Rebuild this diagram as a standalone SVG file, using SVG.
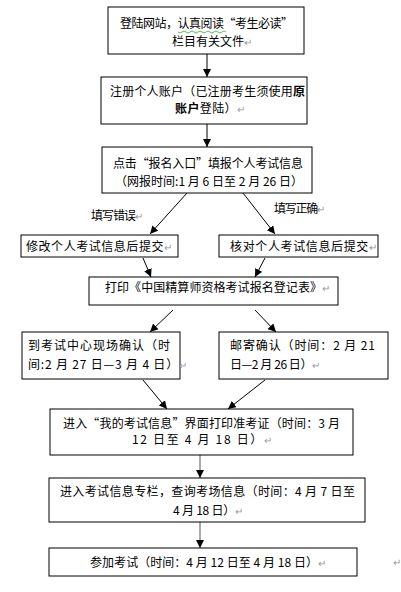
<svg xmlns="http://www.w3.org/2000/svg" width="401" height="592" viewBox="0 0 401 592">
<defs>
<style>
.box{fill:#fff;stroke:#000;stroke-width:1}
.t{font-family:"Noto Sans CJK SC","Noto Sans",sans-serif;font-size:12px;fill:#000}
.pm{fill:#999;font-size:10px}
.b{font-weight:bold}
.c{stroke:#000;stroke-width:1;fill:none;marker-end:url(#ah)}
.g{stroke:#555}
</style>
<marker id="ah" viewBox="0 0 8 8" refX="8" refY="4" markerWidth="8" markerHeight="8" markerUnits="userSpaceOnUse" orient="auto">
<path d="M0,0 L8,4 L0,8 z" fill="#000"/>
</marker>
</defs>
<rect width="401" height="592" fill="#fff"/>
<g id="connectors">
<line class="c" x1="207" y1="54" x2="207" y2="77"/>
<line class="c" x1="207" y1="124" x2="207" y2="147"/>
<line class="c" x1="187" y1="193" x2="150" y2="234"/>
<line class="c" x1="243" y1="193" x2="275" y2="234"/>
<line class="c" x1="143" y1="258" x2="151" y2="277"/>
<line class="c" x1="265" y1="258" x2="255" y2="277"/>
<line class="c" x1="173" y1="310" x2="150" y2="332"/>
<line class="c" x1="255" y1="310" x2="276" y2="332"/>
<line class="c" x1="143" y1="380" x2="167" y2="409"/>
<line class="c" x1="265" y1="380" x2="228" y2="409"/>
<line class="c g" x1="200" y1="455" x2="200" y2="478"/>
<line class="c g" x1="200" y1="522" x2="200" y2="548"/>
</g>
<g id="label-wrong"><text class="t" x="91" y="220" textLength="52">填写错误<tspan class="pm">↵</tspan></text></g>
<g id="label-right"><text class="t" x="274" y="213" textLength="51">填写正确<tspan class="pm">↵</tspan></text></g>
<g id="n1">
<rect class="box" x="108" y="7" width="196" height="47"/>
<text class="t" x="120" y="28" textLength="173">登陆网站，认真阅读“考生必读”</text>
<path d="M178,32 q2,2 4,0 t4,0 t4,0 t4,0 t4,0 t4,0 t4,0 t4,0 t4,0 t4,0 t4,0 t4,0" stroke="#3a3" stroke-width="0.8" fill="none"/>
<text class="t" x="172" y="46" textLength="80">栏目有关文件<tspan class="pm">↵</tspan></text>
</g>
<g id="n2">
<rect class="box" x="101" y="77" width="206" height="47"/>
<text class="t" x="110" y="96" textLength="195">注册个人账户（已注册考生须使用<tspan class="b">原</tspan></text>
<text class="t" x="175" y="113" textLength="70"><tspan class="b">账户</tspan>登陆）<tspan class="pm">↵</tspan></text>
</g>
<g id="n3">
<rect class="box" x="102" y="147" width="210" height="46"/>
<text class="t" x="113" y="168" textLength="190">点击“报名入口”填报个人考试信息</text>
<text class="t" x="115" y="186" textLength="188">（网报时间:1 月 6 日至 2 月 26 日）</text>
</g>
<g id="n4">
<rect class="box" x="21" y="235" width="157" height="22"/>
<text class="t" x="26" y="251" textLength="146">修改个人考试信息后提交<tspan class="pm">↵</tspan></text>
</g>
<g id="n5">
<rect class="box" x="219" y="235" width="159" height="22"/>
<text class="t" x="230" y="251" textLength="147">核对个人考试信息后提交<tspan class="pm">↵</tspan></text>
</g>
<g id="n6">
<rect class="box" x="89" y="277" width="249" height="28"/>
<text class="t" x="105" y="292" textLength="225">打印《中国精算师资格考试报名登记表》<tspan class="pm">↵</tspan></text>
</g>
<g id="n7">
<rect class="box" x="22" y="332" width="158" height="47"/>
<text class="t" x="28" y="350" textLength="142">到考试中心现场确认（时</text>
<text class="t" x="28" y="369" textLength="159">间:2 月 27 日—3 月 4 日）<tspan class="pm">↵</tspan></text>
</g>
<g id="n8">
<rect class="box" x="219" y="332" width="169" height="47"/>
<text class="t" x="230" y="350" textLength="145">邮寄确认（时间：2 月  21</text>
<text class="t" x="230" y="369" textLength="90">日—2 月 26 日）<tspan class="pm">↵</tspan></text>
</g>
<g id="n9">
<rect class="box" x="50" y="409" width="303" height="46"/>
<text class="t" x="63" y="428" textLength="277">进入“我的考试信息”界面打印准考证（时间：3 月</text>
<text class="t" x="132" y="444" textLength="140">12 日至 4 月 18 日）<tspan class="pm">↵</tspan></text>
</g>
<g id="n10">
<rect class="box" x="49" y="478" width="316" height="44"/>
<text class="t" x="60" y="496" textLength="295">进入考试信息专栏，查询考场信息（时间：4 月 7 日至</text>
<text class="t" x="173" y="515" textLength="70">4 月 18 日）<tspan class="pm">↵</tspan></text>
</g>
<g id="n11">
<rect class="box" x="49" y="548" width="308" height="28"/>
<text class="t" x="90" y="567" textLength="236">参加考试（时间：4 月 12 日至 4 月 18 日）<tspan class="pm">↵</tspan></text>
</g>
<text class="t pm" x="393" y="566">↵</text>
</svg>
